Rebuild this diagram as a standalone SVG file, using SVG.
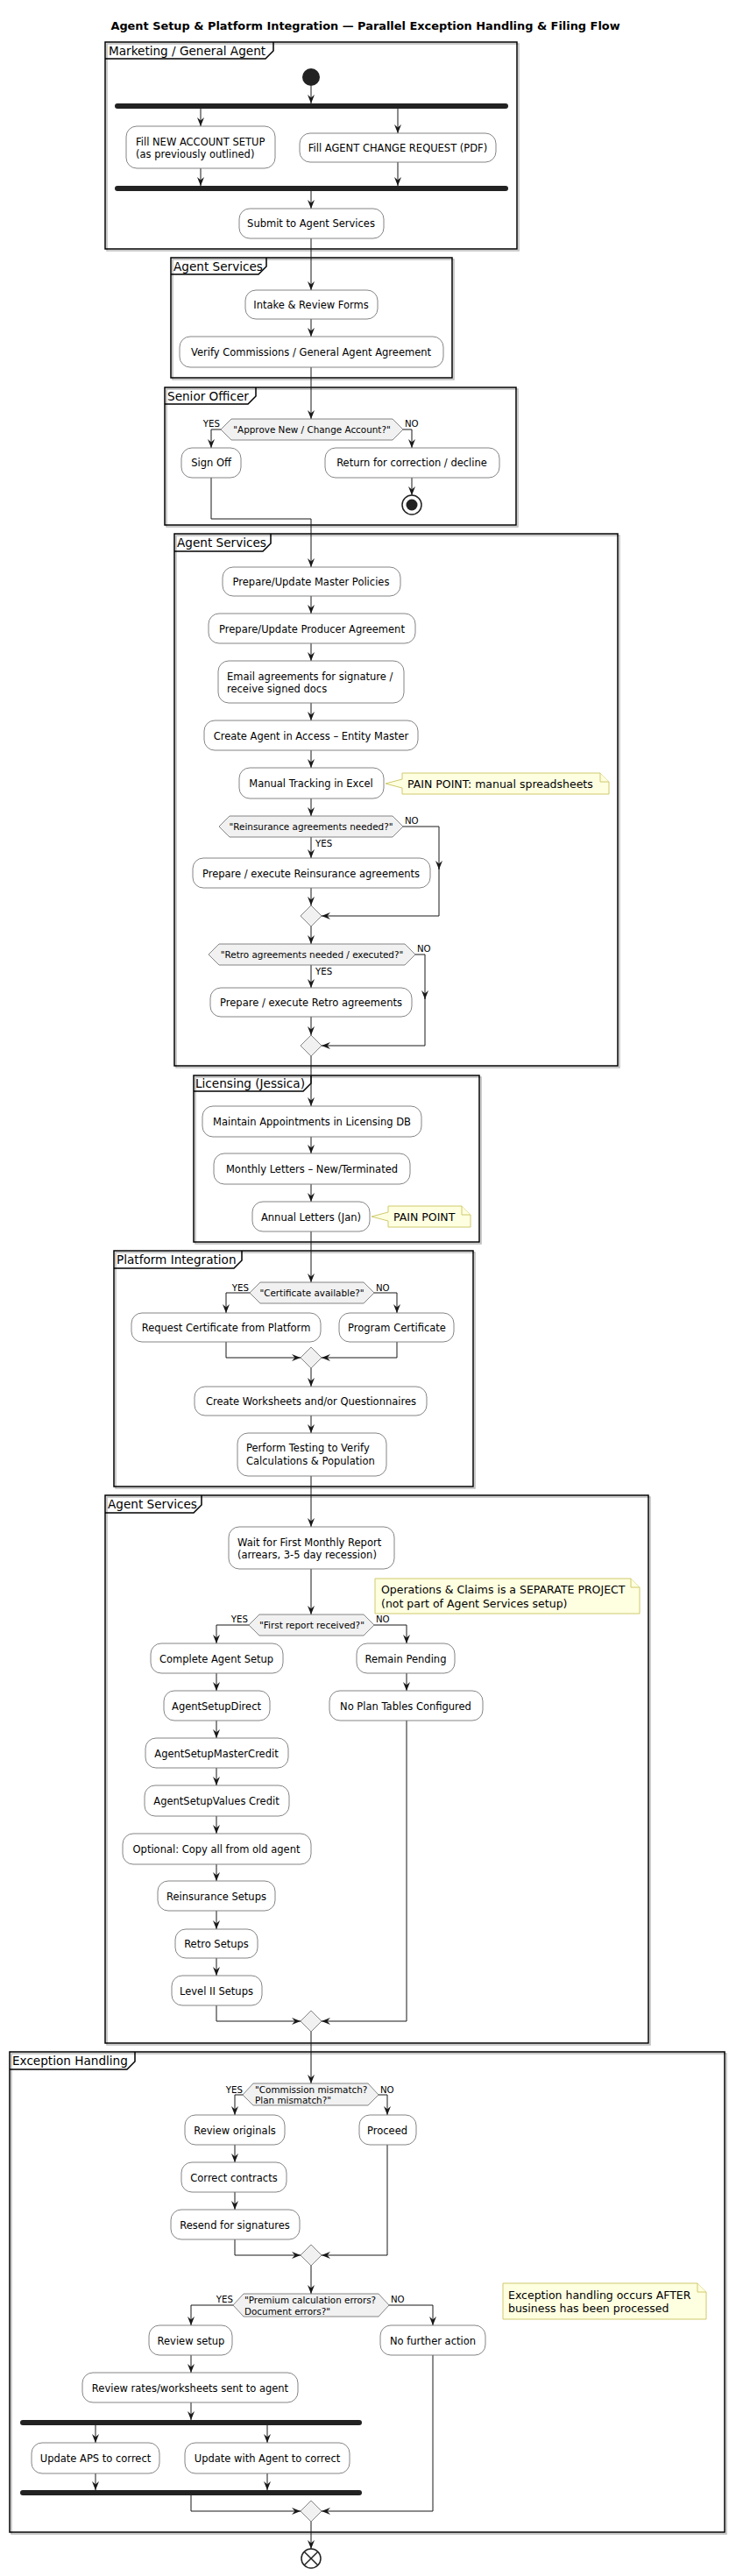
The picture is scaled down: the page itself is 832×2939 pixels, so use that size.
<svg xmlns="http://www.w3.org/2000/svg" width="832" height="2939" viewBox="0 0 832 2939">
<style>
text{font-family:"DejaVu Sans","Liberation Sans",sans-serif;fill:#000}
.title{font-size:12.9px;font-weight:bold}
.lbl{font-size:13.6px}
.t{font-size:11.5px}
.c{text-anchor:middle}
.e{text-anchor:end}
.d{font-size:10.4px}
.yn{font-size:10.2px}
.n{font-size:12.5px}
.frame{fill:none;stroke:#000;stroke-width:1.5}
.shadow{fill:none;stroke:#bbb;stroke-width:1.5}
.tab{fill:none;stroke:#000;stroke-width:1.5}
.act{fill:#fff;stroke:#777;stroke-width:0.9}
.hex{fill:#f1f1f1;stroke:#777;stroke-width:0.9}
.note{fill:#fefee0;stroke:#cfca6c;stroke-width:1}
.bar{fill:#222}
.edge{fill:none;stroke:#181818;stroke-width:1;marker-end:url(#ah)}
</style>
<defs>
<marker id="ah" markerUnits="userSpaceOnUse" markerWidth="10" markerHeight="10" viewBox="0 0 10 10" refX="10" refY="5" orient="auto">
<path d="M0,1 L10,5 L0,9 L3.5,5 Z" fill="#181818"/>
</marker>
</defs>

<text class="title c" x="417" y="34">Agent Setup &amp; Platform Integration — Parallel Exception Handling &amp; Filing Flow</text>

<!-- Frames -->
<g id="frame-marketing">
<rect class="shadow" x="122" y="50" width="470" height="236"/>
<rect class="frame" x="120" y="48" width="470" height="236" fill="#fff"/>
<path class="tab" d="M120,67 H303 L312,58 V48"/>
<text class="lbl" x="124" y="63">Marketing / General Agent</text>
</g>
<g id="frame-agent-services-1">
<rect class="shadow" x="197" y="296" width="321" height="137"/>
<rect class="frame" x="195" y="294" width="321" height="137" fill="#fff"/>
<path class="tab" d="M195,313 H295 L304,304 V294"/>
<text class="lbl" x="198" y="309">Agent Services</text>
</g>
<g id="frame-senior-officer">
<rect class="shadow" x="190" y="444" width="401" height="157"/>
<rect class="frame" x="188" y="442" width="401" height="157" fill="#fff"/>
<path class="tab" d="M188,461 H283 L292,452 V442"/>
<text class="lbl" x="191" y="457">Senior Officer</text>
</g>
<g id="frame-agent-services-2">
<rect class="shadow" x="201" y="611" width="506" height="607"/>
<rect class="frame" x="199" y="609" width="506" height="607" fill="#fff"/>
<path class="tab" d="M199,629 H300 L309,620 V609"/>
<text class="lbl" x="202" y="624">Agent Services</text>
</g>
<g id="frame-licensing">
<rect class="shadow" x="223" y="1229" width="326" height="190"/>
<rect class="frame" x="221" y="1227" width="326" height="190" fill="#fff"/>
<path class="tab" d="M221,1245 H346 L355,1236 V1227"/>
<text class="lbl" x="223" y="1241">Licensing (Jessica)</text>
</g>
<g id="frame-platform">
<rect class="shadow" x="132" y="1429" width="410" height="269"/>
<rect class="frame" x="130" y="1427" width="410" height="269" fill="#fff"/>
<path class="tab" d="M130,1447 H267 L276,1438 V1427"/>
<text class="lbl" x="133" y="1442">Platform Integration</text>
</g>
<g id="frame-agent-services-3">
<rect class="shadow" x="122" y="1708" width="620" height="625"/>
<rect class="frame" x="120" y="1706" width="620" height="625" fill="#fff"/>
<path class="tab" d="M120,1726 H221 L230,1717 V1706"/>
<text class="lbl" x="123" y="1721">Agent Services</text>
</g>
<g id="frame-exception">
<rect class="shadow" x="13" y="2343" width="816" height="548"/>
<rect class="frame" x="11" y="2341" width="816" height="548" fill="#fff"/>
<path class="tab" d="M11,2361 H145 L154,2352 V2341"/>
<text class="lbl" x="14" y="2356">Exception Handling</text>
</g>

<!-- Connectors -->
<g id="connectors">
<path class="edge" d="M355,98 V118"/>
<path class="edge" d="M229,124 V144"/>
<path class="edge" d="M454,124 V152"/>
<path class="edge" d="M229,192 V212"/>
<path class="edge" d="M454,185 V212"/>
<path class="edge" d="M355,218 V238"/>
<path class="edge" d="M355,272 V331"/>
<path class="edge" d="M355,364 V384"/>
<path class="edge" d="M355,419 V478"/>
<path class="edge" d="M252,490 H241 V511"/>
<path class="edge" d="M460,490 H470 V511"/>
<path class="edge" d="M470,545 V565"/>
<path class="edge" d="M241,545 V592 H355 V647"/>
<path class="edge" d="M355,680 V700"/>
<path class="edge" d="M355,734 V754"/>
<path class="edge" d="M355,802 V822"/>
<path class="edge" d="M355,856 V876"/>
<path class="edge" d="M355,911 V931"/>
<path class="edge" d="M355,955 V979"/>
<path class="edge" d="M460,943 H501 V992"/>
<path class="edge" d="M501,990 V1045 H367"/>
<path class="edge" d="M355,1013 V1033"/>
<path class="edge" d="M355,1057 V1077"/>
<path class="edge" d="M355,1101 V1127"/>
<path class="edge" d="M474,1089 H485 V1140"/>
<path class="edge" d="M485,1138 V1193 H367"/>
<path class="edge" d="M355,1160 V1181"/>
<path class="edge" d="M355,1205 V1262"/>
<path class="edge" d="M355,1297 V1316"/>
<path class="edge" d="M355,1351 V1371"/>
<path class="edge" d="M355,1405 V1463"/>
<path class="edge" d="M285,1475 H258 V1498"/>
<path class="edge" d="M427,1475 H453 V1498"/>
<path class="edge" d="M258,1531 V1549 H343"/>
<path class="edge" d="M453,1531 V1549 H367"/>
<path class="edge" d="M355,1561 V1582"/>
<path class="edge" d="M355,1615 V1635"/>
<path class="edge" d="M355,1684 V1742"/>
<path class="edge" d="M355,1790 V1842"/>
<path class="edge" d="M284,1854 H247 V1875"/>
<path class="edge" d="M427,1854 H464 V1875"/>
<path class="edge" d="M247,1909 V1929"/>
<path class="edge" d="M247,1963 V1983"/>
<path class="edge" d="M247,2017 V2037"/>
<path class="edge" d="M247,2072 V2092"/>
<path class="edge" d="M247,2127 V2146"/>
<path class="edge" d="M247,2180 V2201"/>
<path class="edge" d="M247,2234 V2254"/>
<path class="edge" d="M247,2288 V2306 H343"/>
<path class="edge" d="M464,1909 V1929"/>
<path class="edge" d="M464,1963 V2306 H367"/>
<path class="edge" d="M355,2318 V2377"/>
<path class="edge" d="M277,2390 H268 V2413"/>
<path class="edge" d="M432,2390 H442 V2413"/>
<path class="edge" d="M268,2447 V2467"/>
<path class="edge" d="M268,2501 V2521"/>
<path class="edge" d="M268,2555 V2573 H343"/>
<path class="edge" d="M442,2447 V2573 H367"/>
<path class="edge" d="M355,2585 V2617"/>
<path class="edge" d="M266,2630 H218 V2653"/>
<path class="edge" d="M444,2630 H494 V2653"/>
<path class="edge" d="M218,2687 V2707"/>
<path class="edge" d="M218,2741 V2761"/>
<path class="edge" d="M109,2767 V2787"/>
<path class="edge" d="M305,2767 V2787"/>
<path class="edge" d="M109,2822 V2841"/>
<path class="edge" d="M305,2822 V2841"/>
<path class="edge" d="M218,2847 V2865 H343"/>
<path class="edge" d="M494,2687 V2865 H367"/>
<path class="edge" d="M355,2877 V2908"/>
</g>

<!-- Branch labels -->
<g id="branch-labels">
<text class="yn e" x="251" y="487">YES</text>
<text class="yn" x="462" y="487">NO</text>
<text class="yn" x="462" y="940">NO</text>
<text class="yn" x="360" y="966">YES</text>
<text class="yn" x="476" y="1086">NO</text>
<text class="yn" x="360" y="1112">YES</text>
<text class="yn e" x="284" y="1473">YES</text>
<text class="yn" x="429" y="1473">NO</text>
<text class="yn e" x="283" y="1851">YES</text>
<text class="yn" x="429" y="1851">NO</text>
<text class="yn e" x="277" y="2388">YES</text>
<text class="yn" x="434" y="2388">NO</text>
<text class="yn e" x="266" y="2627">YES</text>
<text class="yn" x="446" y="2627">NO</text>
</g>

<!-- Marketing -->
<g id="start"><circle cx="355" cy="88" r="10" fill="#222"/></g>
<g id="fork1"><rect class="bar" x="131" y="118" width="449" height="6" rx="3"/></g>
<g id="fill-new-account">
<rect class="act" x="144" y="144" width="170" height="48" rx="12"/>
<text class="t" x="155" y="166">Fill NEW ACCOUNT SETUP</text>
<text class="t" x="155" y="180">(as previously outlined)</text>
</g>
<g id="fill-agent-change">
<rect class="act" x="342" y="152" width="224" height="33" rx="12"/>
<text class="t c" x="454" y="173">Fill AGENT CHANGE REQUEST (PDF)</text>
</g>
<g id="join1"><rect class="bar" x="131" y="212" width="449" height="6" rx="3"/></g>
<g id="submit">
<rect class="act" x="273" y="238" width="165" height="34" rx="12"/>
<text class="t c" x="355" y="259">Submit to Agent Services</text>
</g>

<!-- Agent Services 1 -->
<g id="intake">
<rect class="act" x="280" y="331" width="151" height="33" rx="12"/>
<text class="t c" x="355" y="352">Intake &amp; Review Forms</text>
</g>
<g id="verify">
<rect class="act" x="205" y="384" width="301" height="35" rx="12"/>
<text class="t c" x="355" y="406">Verify Commissions / General Agent Agreement</text>
</g>

<!-- Senior Officer -->
<g id="approve">
<polygon class="hex" points="252,490 264,478 448,478 460,490 448,502 264,502"/>
<text class="d c" x="356" y="494">"Approve New / Change Account?"</text>
</g>
<g id="sign-off">
<rect class="act" x="207" y="511" width="68" height="34" rx="12"/>
<text class="t c" x="241" y="532">Sign Off</text>
</g>
<g id="return">
<rect class="act" x="371" y="511" width="199" height="34" rx="12"/>
<text class="t c" x="470" y="532">Return for correction / decline</text>
</g>
<g id="end1">
<circle cx="470" cy="576" r="11" fill="#fff" stroke="#222" stroke-width="1.5"/>
<circle cx="470" cy="576" r="6.5" fill="#222"/>
</g>

<!-- Agent Services 2 -->
<g id="master-policies">
<rect class="act" x="254" y="647" width="203" height="33" rx="12"/>
<text class="t c" x="355" y="668">Prepare/Update Master Policies</text>
</g>
<g id="producer-agreement">
<rect class="act" x="238" y="700" width="236" height="34" rx="12"/>
<text class="t c" x="356" y="722">Prepare/Update Producer Agreement</text>
</g>
<g id="email">
<rect class="act" x="249" y="754" width="212" height="48" rx="12"/>
<text class="t" x="259" y="776">Email agreements for signature /</text>
<text class="t" x="259" y="790">receive signed docs</text>
</g>
<g id="create-agent">
<rect class="act" x="233" y="822" width="244" height="34" rx="12"/>
<text class="t c" x="355" y="844">Create Agent in Access – Entity Master</text>
</g>
<g id="manual-tracking">
<rect class="act" x="273" y="876" width="165" height="35" rx="12"/>
<text class="t c" x="355" y="898">Manual Tracking in Excel</text>
</g>
<g id="note-spreadsheets">
<path class="note" d="M459,882 H685 L695,892 V906 H459 V899 L440,894 L459,889 Z"/>
<path class="note" d="M685,882 V892 H695" fill="none"/>
<text class="n" x="465" y="899">PAIN POINT: manual spreadsheets</text>
</g>
<g id="reins-decision">
<polygon class="hex" points="250,943 262,931 448,931 460,943 448,955 262,955"/>
<text class="d c" x="355" y="947">"Reinsurance agreements needed?"</text>
</g>
<g id="reins-exec">
<rect class="act" x="220" y="979" width="271" height="34" rx="12"/>
<text class="t c" x="355" y="1001">Prepare / execute Reinsurance agreements</text>
</g>
<g id="merge1"><polygon class="hex" points="355,1033 367,1045 355,1057 343,1045"/></g>
<g id="retro-decision">
<polygon class="hex" points="238,1089 250,1077 462,1077 474,1089 462,1101 250,1101"/>
<text class="d c" x="356" y="1093">"Retro agreements needed / executed?"</text>
</g>
<g id="retro-exec">
<rect class="act" x="240" y="1127" width="230" height="33" rx="12"/>
<text class="t c" x="355" y="1148">Prepare / execute Retro agreements</text>
</g>
<g id="merge2"><polygon class="hex" points="355,1181 367,1193 355,1205 343,1193"/></g>

<!-- Licensing -->
<g id="maintain-appointments">
<rect class="act" x="231" y="1262" width="250" height="35" rx="12"/>
<text class="t c" x="356" y="1284">Maintain Appointments in Licensing DB</text>
</g>
<g id="monthly-letters">
<rect class="act" x="244" y="1316" width="224" height="35" rx="12"/>
<text class="t c" x="356" y="1338">Monthly Letters – New/Terminated</text>
</g>
<g id="annual-letters">
<rect class="act" x="288" y="1371" width="134" height="34" rx="12"/>
<text class="t c" x="355" y="1393">Annual Letters (Jan)</text>
</g>
<g id="note-pain">
<path class="note" d="M443,1376 H527 L537,1386 V1400 H443 V1393 L424,1388 L443,1383 Z"/>
<path class="note" d="M527,1376 V1386 H537" fill="none"/>
<text class="n" x="449" y="1393">PAIN POINT</text>
</g>

<!-- Platform Integration -->
<g id="cert-decision">
<polygon class="hex" points="285,1475 297,1463 415,1463 427,1475 415,1487 297,1487"/>
<text class="d c" x="356" y="1479">"Certificate available?"</text>
</g>
<g id="request-cert">
<rect class="act" x="150" y="1498" width="216" height="33" rx="12"/>
<text class="t c" x="258" y="1519">Request Certificate from Platform</text>
</g>
<g id="program-cert">
<rect class="act" x="387" y="1498" width="131" height="33" rx="12"/>
<text class="t c" x="453" y="1519">Program Certificate</text>
</g>
<g id="merge3"><polygon class="hex" points="355,1537 367,1549 355,1561 343,1549"/></g>
<g id="create-worksheets">
<rect class="act" x="222" y="1582" width="265" height="33" rx="12"/>
<text class="t c" x="355" y="1603">Create Worksheets and/or Questionnaires</text>
</g>
<g id="perform-testing">
<rect class="act" x="271" y="1635" width="170" height="49" rx="12"/>
<text class="t" x="281" y="1656">Perform Testing to Verify</text>
<text class="t" x="281" y="1671">Calculations &amp; Population</text>
</g>

<!-- Agent Services 3 -->
<g id="wait-report">
<rect class="act" x="261" y="1742" width="189" height="48" rx="12"/>
<text class="t" x="271" y="1764">Wait for First Monthly Report</text>
<text class="t" x="271" y="1778">(arrears, 3-5 day recession)</text>
</g>
<g id="note-operations">
<path class="note" d="M428,1801 H720 L730,1811 V1841 H428 Z"/>
<path class="note" d="M720,1801 V1811 H730" fill="none"/>
<text class="n" x="435" y="1818">Operations &amp; Claims is a SEPARATE PROJECT</text>
<text class="n" x="435" y="1834">(not part of Agent Services setup)</text>
</g>
<g id="first-report-decision">
<polygon class="hex" points="284,1854 296,1842 415,1842 427,1854 415,1866 296,1866"/>
<text class="d c" x="356" y="1858">"First report received?"</text>
</g>
<g id="complete-setup">
<rect class="act" x="172" y="1875" width="151" height="34" rx="12"/>
<text class="t c" x="247" y="1897">Complete Agent Setup</text>
</g>
<g id="remain-pending">
<rect class="act" x="407" y="1875" width="112" height="34" rx="12"/>
<text class="t c" x="463" y="1897">Remain Pending</text>
</g>
<g id="setup-direct">
<rect class="act" x="187" y="1929" width="121" height="34" rx="12"/>
<text class="t c" x="247" y="1951">AgentSetupDirect</text>
</g>
<g id="no-plan-tables">
<rect class="act" x="376" y="1929" width="175" height="34" rx="12"/>
<text class="t c" x="463" y="1951">No Plan Tables Configured</text>
</g>
<g id="setup-master-credit">
<rect class="act" x="166" y="1983" width="163" height="34" rx="12"/>
<text class="t c" x="247" y="2005">AgentSetupMasterCredit</text>
</g>
<g id="setup-values-credit">
<rect class="act" x="165" y="2037" width="165" height="35" rx="12"/>
<text class="t c" x="247" y="2059">AgentSetupValues Credit</text>
</g>
<g id="copy-old-agent">
<rect class="act" x="140" y="2092" width="215" height="35" rx="12"/>
<text class="t c" x="247" y="2114">Optional: Copy all from old agent</text>
</g>
<g id="reinsurance-setups">
<rect class="act" x="180" y="2146" width="134" height="34" rx="12"/>
<text class="t c" x="247" y="2168">Reinsurance Setups</text>
</g>
<g id="retro-setups">
<rect class="act" x="200" y="2201" width="94" height="33" rx="12"/>
<text class="t c" x="247" y="2222">Retro Setups</text>
</g>
<g id="level2-setups">
<rect class="act" x="196" y="2254" width="103" height="34" rx="12"/>
<text class="t c" x="247" y="2276">Level II Setups</text>
</g>
<g id="merge4"><polygon class="hex" points="355,2294 367,2306 355,2318 343,2306"/></g>

<!-- Exception Handling -->
<g id="mismatch-decision">
<polygon class="hex" points="277,2390 289,2377 420,2377 432,2390 420,2402 289,2402"/>
<text class="d" x="291" y="2388">"Commission mismatch?</text>
<text class="d" x="291" y="2400">Plan mismatch?"</text>
</g>
<g id="review-originals">
<rect class="act" x="211" y="2413" width="114" height="34" rx="12"/>
<text class="t c" x="268" y="2435">Review originals</text>
</g>
<g id="proceed">
<rect class="act" x="410" y="2413" width="65" height="34" rx="12"/>
<text class="t c" x="442" y="2435">Proceed</text>
</g>
<g id="correct-contracts">
<rect class="act" x="207" y="2467" width="120" height="34" rx="12"/>
<text class="t c" x="267" y="2489">Correct contracts</text>
</g>
<g id="resend">
<rect class="act" x="195" y="2521" width="147" height="34" rx="12"/>
<text class="t c" x="268" y="2543">Resend for signatures</text>
</g>
<g id="merge5"><polygon class="hex" points="355,2561 367,2573 355,2585 343,2573"/></g>
<g id="premium-decision">
<polygon class="hex" points="266,2630 278,2617 432,2617 444,2630 432,2643 278,2643"/>
<text class="d" x="279" y="2628">"Premium calculation errors?</text>
<text class="d" x="279" y="2641">Document errors?"</text>
</g>
<g id="note-exception">
<path class="note" d="M574,2605 H796 L806,2615 V2646 H574 Z"/>
<path class="note" d="M796,2605 V2615 H806" fill="none"/>
<text class="n" x="580" y="2623">Exception handling occurs AFTER</text>
<text class="n" x="580" y="2638">business has been processed</text>
</g>
<g id="review-setup">
<rect class="act" x="170" y="2653" width="95" height="34" rx="12"/>
<text class="t c" x="218" y="2675">Review setup</text>
</g>
<g id="no-further-action">
<rect class="act" x="434" y="2653" width="120" height="34" rx="12"/>
<text class="t c" x="494" y="2675">No further action</text>
</g>
<g id="review-rates">
<rect class="act" x="94" y="2707" width="246" height="34" rx="12"/>
<text class="t c" x="217" y="2729">Review rates/worksheets sent to agent</text>
</g>
<g id="fork2"><rect class="bar" x="23" y="2761" width="390" height="6" rx="3"/></g>
<g id="update-aps">
<rect class="act" x="36" y="2787" width="146" height="35" rx="12"/>
<text class="t c" x="109" y="2809">Update APS to correct</text>
</g>
<g id="update-agent">
<rect class="act" x="211" y="2787" width="188" height="35" rx="12"/>
<text class="t c" x="305" y="2809">Update with Agent to correct</text>
</g>
<g id="join2"><rect class="bar" x="23" y="2841" width="390" height="6" rx="3"/></g>
<g id="merge6"><polygon class="hex" points="355,2853 367,2865 355,2877 343,2865"/></g>
<g id="end2">
<circle cx="355" cy="2919" r="11" fill="#fff" stroke="#222" stroke-width="1.5"/>
<path d="M347.2,2911.2 L362.8,2926.8 M362.8,2911.2 L347.2,2926.8" stroke="#222" stroke-width="1.5"/>
</g>
</svg>
